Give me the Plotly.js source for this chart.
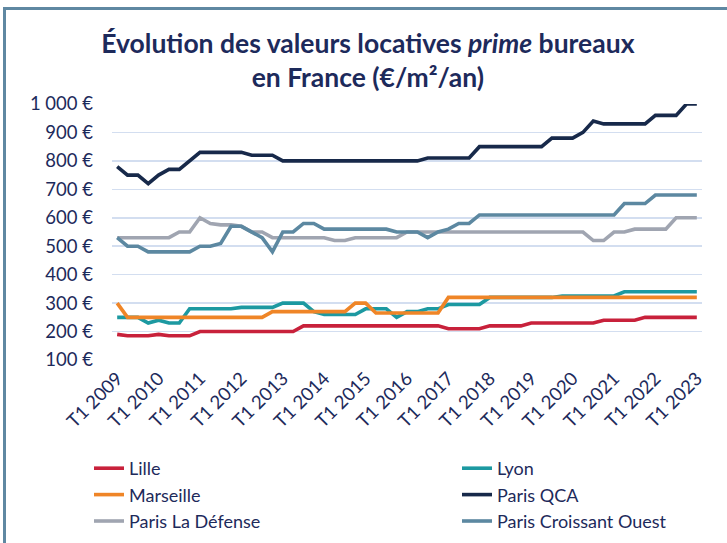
<!DOCTYPE html>
<html>
<head>
<meta charset="utf-8">
<script src="https://cdn.plot.ly/plotly-3.0.1.min.js"></script>
<style>
  html, body { margin: 0; padding: 0; background: #ffffff; }
  #chart { width: 727px; height: 543px; }
</style>
</head>
<body>
<div id="chart"></div>
<script>
// ---- Data ----
const years = [2009, 2010, 2011, 2012, 2013, 2014, 2015, 2016, 2017, 2018, 2019, 2020, 2021, 2022, 2023];
const quarters = [];
years.forEach(function (y) {
  ['T1', 'T2', 'T3', 'T4'].forEach(function (q) {
    if (y < 2023 || q === 'T1') quarters.push(q + ' ' + y);
  });
});
const tickLabelsX = years.map(function (y) { return 'T1 ' + y; });

const lille = [190,185,185,185,190,185,185,185,
  200,200,200,200,200,200,200,200,200,200,
  220,220,220,220,220,220,220,220,220,220,220,220,220,220,
  210,210,210,210,
  220,220,220,220,
  230,230,230,230,230,230,230,
  240,240,240,240,
  250,250,250,250,250,250];

const lyon = [250,250,250,230,240,230,230,
  280,280,280,280,280,
  285,285,285,285,
  300,300,300,
  270,
  260,260,260,260,
  280,280,280,
  250,
  270,270,
  280,280,
  295,295,295,295,
  320,320,320,320,320,320,320,
  325,325,325,325,325,325,
  340,340,340,340,340,340,340,340];

const marseille = [300,
  250,250,250,250,250,250,250,250,250,250,250,250,250,250,
  270,270,270,270,270,270,270,270,
  300,300,
  265,265,265,265,265,265,265,
  320,320,320,320,320,320,320,320,320,320,320,320,320,320,320,320,320,320,320,320,320,320,320,320,320];

const parisQCA = [780,750,750,720,750,770,770,800,
  830,830,830,830,830,
  820,820,820,
  800,800,800,800,800,800,800,800,800,800,800,800,800,800,
  810,810,810,810,810,
  850,850,850,850,850,850,850,
  880,880,880,
  900,
  940,
  930,930,930,930,930,
  960,960,960,
  1000,1000];

const laDefense = [530,530,530,530,530,530,
  550,550,
  600,580,575,575,570,550,550,530,
  530,530,530,530,530,
  520,520,
  530,530,530,530,530,
  550,550,550,550,550,550,550,550,550,550,550,550,550,550,550,550,550,550,
  520,520,
  550,550,
  560,560,560,560,
  600,600,600];

const croissantOuest = [530,500,500,
  480,480,480,480,480,
  500,500,510,
  570,570,550,530,480,550,550,580,580,
  560,560,560,560,560,560,560,
  550,550,550,
  530,550,560,580,580,
  610,610,610,610,610,610,610,610,610,610,610,610,610,610,
  650,650,650,
  680,680,680,680,680];

const yTickVals = [100, 200, 300, 400, 500, 600, 700, 800, 900, 1000];
const yTickText = ['100 €', '200 €', '300 €', '400 €', '500 €', '600 €', '700 €', '800 €', '900 €', '1 000 €'];

const seriesNames = ['Lille', 'Lyon', 'Marseille', 'Paris QCA', 'Paris La Défense', 'Paris Croissant Ouest'];
const seriesData = [lille, lyon, marseille, parisQCA, laDefense, croissantOuest];
const seriesColors = ['#c8213b', '#1c99a1', '#ef8527', '#17294a', '#a0a5b1', '#5c88a1'];
const seriesLegend = ['legend', 'legend2', 'legend', 'legend2', 'legend', 'legend2'];

// ---- Chart ----
const navy = '#1d2a5b';
const font = 'Lato, "Open Sans", sans-serif';
const fs = 18.5;

const traces = seriesNames.map(function (name, i) {
  return {
    type: 'scatter',
    mode: 'lines',
    name: name,
    x: quarters,
    y: seriesData[i],
    legend: seriesLegend[i],
    line: { color: seriesColors[i], width: 3.6 },
    hoverinfo: 'x+y+name'
  };
});

const plotL = 112, plotR = 702, plotT = 104, plotB = 360, W = 727, H = 543;
const px = function (p) { return (p - plotL) / (plotR - plotL); };
const py = function (p) { return (plotB - p) / (plotB - plotT); };
const borderColor = '#5f88a2';

const legendBase = {
  orientation: 'h',
  xref: 'container',
  yref: 'container',
  xanchor: 'left',
  yanchor: 'top',
  entrywidth: 300,
  entrywidthmode: 'pixels',
  font: { family: font, size: 18, color: navy },
  traceorder: 'normal',
  bgcolor: 'rgba(0,0,0,0)',
  borderwidth: 0
};

const layout = {
  width: W,
  height: H,
  margin: { l: plotL, r: W - plotR, t: plotT, b: H - plotB, pad: 0 },
  paper_bgcolor: '#ffffff',
  plot_bgcolor: '#ffffff',
  font: { family: font, color: navy, size: fs },
  title: {
    text: '<b>Évolution des valeurs locatives <i>prime</i> bureaux<br>en France (€/m²/an)</b>',
    font: { family: font, size: 26.5, color: navy },
    x: 0.506,
    xanchor: 'center',
    xref: 'container',
    y: 1 - 53 / H,
    yanchor: 'top',
    yref: 'container'
  },
  showlegend: true,
  legend: Object.assign({}, legendBase, { x: 89 / W, y: 1 - 450 / H }),
  legend2: Object.assign({}, legendBase, { x: 457 / W, y: 1 - 450 / H }),
  xaxis: {
    type: 'category',
    categoryorder: 'array',
    categoryarray: quarters,
    range: [-0.5, quarters.length - 0.5],
    tickmode: 'array',
    tickvals: tickLabelsX,
    ticktext: tickLabelsX,
    tickangle: -45,
    tickfont: { family: font, size: fs, color: navy },
    ticklabelstandoff: 3,
    showgrid: false,
    zeroline: false,
    showline: false,
    ticks: '',
    automargin: false
  },
  yaxis: {
    range: [100, 1000],
    tickmode: 'array',
    tickvals: yTickVals,
    ticktext: yTickText,
    tickfont: { family: font, size: fs, color: navy },
    showgrid: true,
    gridcolor: '#d3def0',
    gridwidth: 1.5,
    zeroline: false,
    showline: false,
    ticks: '',
    ticklabelstandoff: 18,
    automargin: false
  },
  shapes: [
    { type: 'line', xref: 'paper', yref: 'paper', x0: px(4.5), x1: px(4.5), y0: py(7), y1: py(H), line: { color: borderColor, width: 3 } },
    { type: 'line', xref: 'paper', yref: 'paper', x0: px(3), x1: px(W), y0: py(8.5), y1: py(8.5), line: { color: borderColor, width: 3 } }
  ]
};

Plotly.newPlot('chart', traces, layout, { displayModeBar: false, staticPlot: true });
</script>
</body>
</html>
